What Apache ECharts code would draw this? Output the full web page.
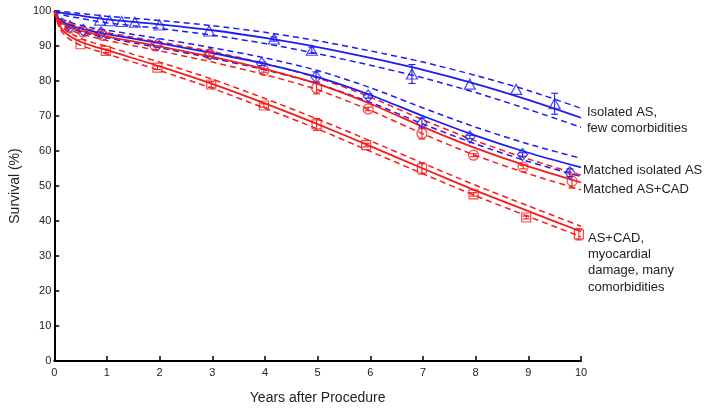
<!DOCTYPE html>
<html>
<head>
<meta charset="utf-8">
<script src="https://cdn.jsdelivr.net/npm/echarts@6/dist/echarts.min.js"></script>
<style>html,body{margin:0;padding:0;background:#fff}#c{width:714px;height:412px}</style>
</head>
<body>
<div id="c"></div>
<script>
// ---- Data ----
const years = [0, 0.1, 0.25, 0.5, 0.75, 1, 1.5, 2, 3, 4, 5, 6, 7, 8, 9, 10];
const xTicks = [0, 1, 2, 3, 4, 5, 6, 7, 8, 9, 10];
const yTicks = [0, 10, 20, 30, 40, 50, 60, 70, 80, 90, 100];

// Isolated AS, few comorbidities (blue, triangles)
const g1Fit   = [100, 99.6, 99.2, 98.7, 98.1, 97.6, 96.9, 96.2, 94.5, 92.3, 89.7, 86.6, 83.2, 79.2, 74.6, 69.5];
const g1Upper = [100, 99.9, 99.7, 99.3, 98.9, 98.5, 97.9, 97.3, 95.8, 93.9, 91.5, 88.6, 85.4, 81.6, 77.3, 72.2];
const g1Lower = [100, 99.2, 98.6, 97.9, 97.2, 96.6, 95.8, 95.0, 93.1, 90.7, 87.8, 84.5, 80.9, 76.7, 71.9, 66.8];
const g1MarkT = [0.87, 1.05, 1.28, 1.53, 2.0, 2.94, 4.17, 4.89, 6.79, 7.89, 8.77, 9.5];
const g1MarkS = [97.4, 97.2, 97.0, 96.8, 96.0, 94.3, 92.0, 88.8, 82.0, 79.1, 77.6, 73.5];
const g1Err   = [0, 0, 0, 0, 0, 0, 0.6, 0.9, 2.7, 0, 0, 3.0];

// Matched isolated AS (blue, diamonds)
const g2Fit   = [100, 97.6, 96.2, 95.0, 94.1, 93.4, 92.1, 90.8, 88.0, 84.9, 81.1, 76.0, 70.0, 64.4, 59.5, 55.3];
const g2Upper = [100, 98.2, 97.0, 95.9, 95.1, 94.5, 93.3, 92.1, 89.5, 86.6, 83.0, 78.1, 72.3, 66.8, 62.0, 57.9];
const g2Lower = [100, 97.0, 95.4, 94.1, 93.1, 92.3, 90.9, 89.5, 86.5, 83.2, 79.2, 73.9, 67.7, 62.0, 57.0, 52.7];
const g2MarkT = [0.3, 0.55, 0.89, 1.96, 2.96, 3.94, 4.97, 5.96, 6.98, 7.89, 8.89, 9.79];
const g2MarkS = [95.5, 94.5, 93.8, 90.4, 87.8, 84.9, 81.1, 75.7, 68.0, 64.0, 59.0, 53.8];
const g2Err   = [0, 0, 0, 0, 0, 0.5, 1.5, 0.6, 1.4, 0.5, 0.5, 1.1];

// Matched AS+CAD (red, circles)
const g3Fit   = [100, 97.2, 95.7, 94.4, 93.5, 92.7, 91.3, 89.9, 86.9, 83.4, 79.2, 73.5, 66.9, 60.8, 55.6, 51.0];
const g3Upper = [100, 97.8, 96.5, 95.3, 94.5, 93.8, 92.5, 91.2, 88.4, 85.0, 80.9, 75.4, 68.9, 62.9, 57.7, 53.1];
const g3Lower = [100, 96.6, 94.9, 93.5, 92.5, 91.6, 90.1, 88.6, 85.4, 81.8, 77.5, 71.6, 64.9, 58.7, 53.5, 48.9];
const g3MarkT = [0.3, 0.55, 0.92, 1.92, 2.94, 3.98, 4.98, 5.96, 6.98, 7.96, 8.9, 9.83];
const g3MarkS = [95.2, 94.0, 93.0, 90.0, 87.7, 83.0, 78.0, 72.0, 65.0, 58.8, 55.4, 51.4];
const g3Err   = [0, 0, 0, 0, 0.5, 0.5, 1.7, 0.5, 1.6, 0.4, 0.5, 2.0];

// AS+CAD, myocardial damage, many comorbidities (red, squares)
const g4Fit   = [100, 95.8, 93.3, 91.2, 89.9, 88.8, 86.5, 84.2, 79.2, 73.6, 67.7, 61.4, 55.0, 48.7, 42.8, 37.0];
const g4Upper = [100, 96.5, 94.2, 92.2, 90.9, 89.9, 87.6, 85.4, 80.5, 75.0, 69.1, 62.9, 56.5, 50.2, 44.3, 38.5];
const g4Lower = [100, 95.1, 92.4, 90.2, 88.9, 87.7, 85.4, 83.0, 77.9, 72.2, 66.3, 59.9, 53.5, 47.2, 41.3, 35.5];
const g4MarkT = [0.5, 0.98, 1.96, 2.98, 3.98, 4.98, 5.92, 6.98, 7.96, 8.96, 9.96];
const g4MarkS = [90.5, 88.6, 83.8, 79.0, 73.0, 67.6, 61.7, 55.0, 47.6, 41.0, 36.2];
const g4Err   = [0, 0.5, 0.5, 0.8, 0.5, 1.7, 0.5, 1.6, 0.5, 0.4, 1.6];

const BLUE = '#1c1cf5';
const RED = '#f51c1c';

function pairs(xs, ys) { return xs.map((x, i) => [x, ys[i]]); }

function lineSeries(vals, color, dashed) {
  return {
    type: 'line', data: pairs(years, vals), showSymbol: false, symbol: 'none',
    smooth: 0.25, silent: true, z: dashed ? 2 : 3,
    lineStyle: { color: color, width: dashed ? 1.5 : 1.8, type: dashed ? [6, 4] : 'solid' }
  };
}
function markerSeries(ts, ss, color, symbol, size) {
  return {
    type: 'scatter', data: pairs(ts, ss), symbol: symbol, symbolSize: size, z: 5,
    itemStyle: { color: 'rgba(255,255,255,0)', borderColor: color, borderWidth: 1.2 }
  };
}
function errSeries(ts, ss, es, color) {
  const d = [];
  ts.forEach((t, i) => { if (es[i] > 0) d.push([t, ss[i] - es[i], ss[i] + es[i]]); });
  return {
    type: 'custom', data: d, z: 6, silent: true,
    renderItem: function (params, api) {
      const x = api.value(0);
      const p1 = api.coord([x, api.value(1)]);
      const p2 = api.coord([x, api.value(2)]);
      const cap = 3.5;
      const st = { stroke: color, lineWidth: 1.1 };
      return { type: 'group', children: [
        { type: 'line', shape: { x1: p1[0], y1: p1[1], x2: p2[0], y2: p2[1] }, style: st },
        { type: 'line', shape: { x1: p1[0] - cap, y1: p1[1], x2: p1[0] + cap, y2: p1[1] }, style: st },
        { type: 'line', shape: { x1: p2[0] - cap, y1: p2[1], x2: p2[0] + cap, y2: p2[1] }, style: st }
      ] };
    }
  };
}

const series = [
  lineSeries(g1Upper, BLUE, true), lineSeries(g1Lower, BLUE, true), lineSeries(g1Fit, BLUE, false),
  lineSeries(g2Upper, BLUE, true), lineSeries(g2Lower, BLUE, true), lineSeries(g2Fit, BLUE, false),
  lineSeries(g3Upper, RED, true), lineSeries(g3Lower, RED, true), lineSeries(g3Fit, RED, false),
  lineSeries(g4Upper, RED, true), lineSeries(g4Lower, RED, true), lineSeries(g4Fit, RED, false),
  markerSeries(g1MarkT, g1MarkS, BLUE, 'triangle', [11, 10]),
  markerSeries(g2MarkT, g2MarkS, BLUE, 'diamond', [10, 12]),
  markerSeries(g3MarkT, g3MarkS, RED, 'circle', 10),
  markerSeries(g4MarkT, g4MarkS, RED, 'rect', 9),
  errSeries(g1MarkT, g1MarkS, g1Err, BLUE),
  errSeries(g2MarkT, g2MarkS, g2Err, BLUE),
  errSeries(g3MarkT, g3MarkS, g3Err, RED),
  errSeries(g4MarkT, g4MarkS, g4Err, RED)
];

const FONT = '"Liberation Sans", Arial, sans-serif';
const chart = echarts.init(document.getElementById('c'), null, { renderer: 'canvas' });
chart.setOption({
  animation: false,
  backgroundColor: '#fff',
  grid: { left: 51, right: 133, top: 11, bottom: 51, containLabel: false },
  xAxis: {
    type: 'value', min: xTicks[0], max: xTicks[xTicks.length - 1], interval: 1,
    name: 'Years after Procedure', nameLocation: 'middle', nameGap: 30,
    nameTextStyle: { fontFamily: FONT, fontSize: 14, color: '#222' },
    axisLine: { lineStyle: { color: '#000', width: 2 } },
    axisTick: { inside: true, length: 5, lineStyle: { color: '#000', width: 1.5 } },
    axisLabel: { fontFamily: FONT, fontSize: 11, color: '#222', margin: 6 },
    splitLine: { show: false }
  },
  yAxis: {
    type: 'value', min: yTicks[0], max: yTicks[yTicks.length - 1], interval: 10,
    name: 'Survival (%)', nameLocation: 'middle', nameGap: 30, nameRotate: 90,
    nameTextStyle: { fontFamily: FONT, fontSize: 14, color: '#222' },
    axisLine: { show: true, lineStyle: { color: '#000', width: 2 } },
    axisTick: { show: true, inside: true, length: 5, lineStyle: { color: '#000', width: 1.5 } },
    axisLabel: { fontFamily: FONT, fontSize: 11, color: '#222', margin: 3 },
    splitLine: { show: false }
  },
  graphic: [
    { type: 'text', left: 587, top: 104, style: { text: 'Isolated AS,\nfew comorbidities', font: '13px ' + FONT, fill: '#222', lineHeight: 16 } },
    { type: 'text', left: 583, top: 161, style: { text: 'Matched isolated AS\nMatched AS+CAD', font: '13px ' + FONT, fill: '#222', lineHeight: 19 } },
    { type: 'text', left: 588, top: 230, style: { text: 'AS+CAD,\nmyocardial\ndamage, many\ncomorbidities', font: '13px ' + FONT, fill: '#222', lineHeight: 16.3 } }
  ],
  series: series
});
</script>
</body>
</html>
